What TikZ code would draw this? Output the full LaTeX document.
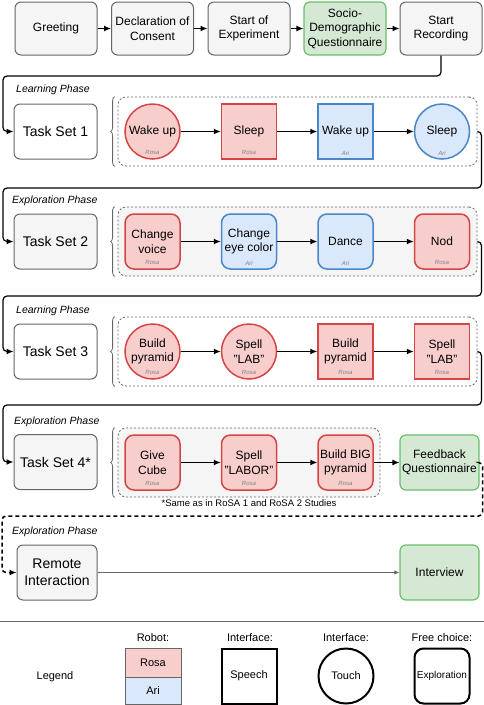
\documentclass[tikz,border=0pt]{standalone}
\usepackage{fontspec}
\setmainfont{Liberation Sans}
\usetikzlibrary{
  arrows.meta,
  positioning,
  decorations.pathreplacing
}
\definecolor{boxgray}{HTML}{F5F5F5}
\definecolor{linegray}{HTML}{666666}
\definecolor{rosafill}{HTML}{F8CECC}
\definecolor{rosaline}{HTML}{D64545}
\definecolor{arifill}{HTML}{DAE8FC}
\definecolor{ariline}{HTML}{4A86C8}
\definecolor{quesfill}{HTML}{D5E8D4}
\definecolor{quesline}{HTML}{6BBF6B}
\tikzset{
  stage/.style={
    draw=linegray, fill=boxgray, rounded corners=6pt, line width=1pt,
    minimum width=82pt, minimum height=53pt, align=center, inner sep=1pt,
    font=\fontsize{12}{14.5}\selectfont
  },
  questionnaire/.style={stage, draw=quesline, fill=quesfill, line width=1.2pt},
  taskset/.style={stage, minimum width=83pt, minimum height=55pt, font=\fontsize{14}{17}\selectfont},
  task/.style={
    minimum size=55pt, inner sep=0pt, align=center, line width=1.5pt,
    font=\fontsize{12}{14.5}\selectfont
  },
  speech/.style={task, rectangle},
  touch/.style={task, circle},
  free/.style={task, rectangle, rounded corners=9pt},
  robotname/.style={text=gray, font=\fontsize{6}{7}\selectfont\itshape, inner sep=1pt, anchor=south, yshift=3.5pt},
  rosa/.style={draw=rosaline, fill=rosafill, label={[robotname]south:Rosa}},
  ari/.style={draw=ariline, fill=arifill, label={[robotname]south:Ari}},
  phase/.style={anchor=west, inner sep=0pt, font=\fontsize{10.5}{12}\selectfont\itshape},
  group/.style={draw=linegray, dash pattern=on 2pt off 2pt, rounded corners=8pt, line width=0.8pt, minimum height=69pt},
  brace/.style={draw=linegray, line width=0.8pt, decorate, decoration={brace, amplitude=4pt}},
  flow/.style={->, line width=1.2pt, rounded corners=4pt},
  legendtext/.style={font=\fontsize{11}{13}\selectfont},
  legendshape/.style={draw=black, fill=white, line width=2pt, font=\fontsize{11}{13}\selectfont}
}

\begin{document}
\begin{tikzpicture}[x=1pt, y=-1pt, >={Latex[length=7pt,width=6pt]}]
\useasboundingbox (0,0) rectangle (484,705);

\node[stage] (greet) at (56,28.5) {Greeting};
\node[stage] (consent) at (152.5,28.5) {Declaration of\\Consent};
\node[stage] (start) at (249,28.5) {Start of\\Experiment};
\node[questionnaire] (socio) at (345,28.5) {Socio-\\Demographic\\Questionnaire};
\node[stage] (record) at (441,28.5) {Start\\Recording};

\node[phase] (learn1) at (16,90) {Learning Phase};
\node[taskset, fill=white] (ts1) at (55.5,131.5) {Task Set 1};
\node[group, minimum width=359pt] (g1) at (297.5,131.5) {};
\node[touch, rosa] (wake1) at (152.5,131.5) {Wake up};
\node[speech, rosa] (sleep1) at (249,131.5) {Sleep};
\node[speech, ari] (wake2) at (345.5,131.5) {Wake up};
\node[touch, ari] (sleep2) at (442,131.5) {Sleep};

\node[phase] (explore2) at (12,201) {Exploration Phase};
\node[taskset] (ts2) at (55.5,241.5) {Task Set 2};
\node[group, fill=boxgray, minimum width=359pt] (g2) at (297.5,241.5) {};
\node[free, rosa] (voice) at (152.5,241.5) {Change\\voice};
\node[free, ari] (eye) at (249,241.5) {Change\\eye color};
\node[free, ari] (dance) at (345.5,241.5) {Dance};
\node[free, rosa] (nod) at (442,241.5) {Nod};

\node[phase] (learn3) at (16,311) {Learning Phase};
\node[taskset, fill=white] (ts3) at (55.5,351.5) {Task Set 3};
\node[group, minimum width=359pt] (g3) at (297.5,351.5) {};
\node[touch, rosa] (pyramid1) at (152.5,351.5) {Build\\pyramid};
\node[touch, rosa] (lab1) at (249,351.5) {Spell\\"LAB"};
\node[speech, rosa] (pyramid2) at (345.5,351.5) {Build\\pyramid};
\node[speech, rosa] (lab2) at (442,351.5) {Spell\\"LAB"};

\node[phase] (explore4) at (14,422) {Exploration Phase};
\node[taskset] (ts4) at (55.5,462) {Task Set 4*};
\node[group, fill=boxgray, minimum width=262pt] (g4) at (249,462.5) {};
\node[free, rosa] (cube) at (152.5,462.5) {Give\\Cube};
\node[free, rosa] (labor) at (249,462.5) {Spell\\"LABOR"};
\node[free, rosa] (bigpyramid) at (345.5,462.5) {Build BIG\\pyramid};
\node[questionnaire, minimum width=79pt, minimum height=55pt] (feedback) at (439.5,462.5) {Feedback\\Questionnaire};
\node[font=\fontsize{9.5}{11}\selectfont, inner sep=1pt, below=1pt of g4] (note) {*Same as in RoSA 1 and RoSA 2 Studies};

\node[phase] (explore5) at (12,532) {Exploration Phase};
\node[taskset, minimum width=80pt] (remote) at (57,572.5) {Remote\\Interaction};
\node[questionnaire, minimum width=79pt, minimum height=55pt] (interview) at (439.5,572.5) {Interview};

\foreach \g in {g1,g2,g3,g4} {
  \draw[brace] ([xshift=-3pt]\g.south west) -- ([xshift=-3pt]\g.north west);
}

\foreach \a/\b in {greet/consent, consent/start, start/socio, socio/record,
  wake1/sleep1, sleep1/wake2, wake2/sleep2, voice/eye, eye/dance, dance/nod,
  pyramid1/lab1, lab1/pyramid2, pyramid2/lab2, cube/labor, labor/bigpyramid, bigpyramid/feedback} {
  \draw[flow] (\a) -- (\b);
}

\coordinate (turn1) at (3,76);
\coordinate (turn2) at (3,188);
\coordinate (turn3) at (3,296);
\coordinate (turn4) at (3,405);
\coordinate (turn5) at (2,516);
\draw[flow] (record.south) |- (turn1) |- (ts1.west);
\draw[flow] (g1.east) -- ++(4,0) |- (turn2) |- (ts2.west);
\draw[flow] (g2.east) -- ++(4,0) |- (turn3) |- (ts3.west);
\draw[flow] (g3.east) -- ++(4,0) |- (turn4) |- (ts4.west);
\draw[flow, line width=1.5pt, dash pattern=on 4pt off 3pt] (feedback.east) -- ++(3,0) |- (turn5) |- (remote.west);
\draw[->, draw=linegray, line width=1pt, >={Latex[length=5pt,width=4.5pt]}] (remote) -- (interview);

\draw[linegray, line width=1pt] (0,621) -- (484,621);
\node[legendtext] (legend) at (55,677) {Legend};
\node[legendtext] (robothead) at (153,638) {Robot:};
\node[legendtext, draw=linegray, fill=rosafill, minimum width=56pt, minimum height=28.5pt] (lrosa) at (153,662.5) {Rosa};
\node[legendtext, draw=linegray, fill=arifill, minimum width=56pt, minimum height=27.5pt, below=0pt of lrosa] (lari) {Ari};
\node[legendtext] (speechhead) at (250,638) {Interface:};
\node[speech, legendshape] (lspeech) at (249,676) {Speech};
\node[legendtext] (touchhead) at (346,638) {Interface:};
\node[touch, legendshape] (ltouch) at (346,676) {Touch};
\node[legendtext] (freehead) at (442,638) {Free choice:};
\node[free, legendshape, font=\fontsize{10}{12}\selectfont] (lfree) at (442,676) {Exploration};
\end{tikzpicture}
\end{document}
